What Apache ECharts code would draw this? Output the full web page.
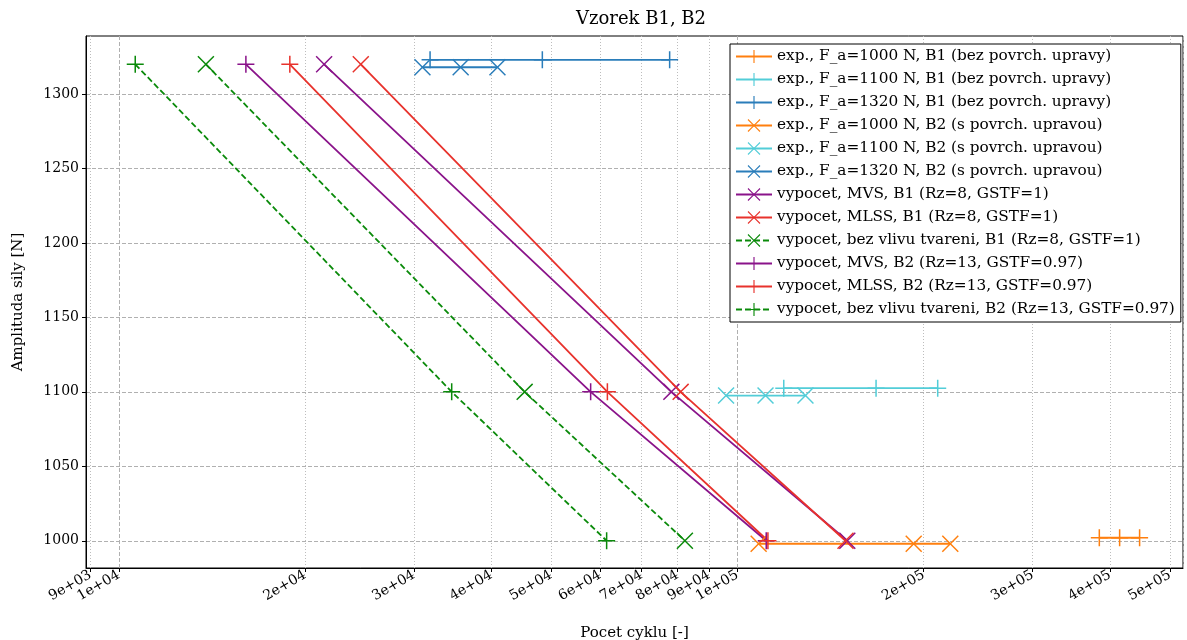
<!DOCTYPE html>
<html>
<head>
<meta charset="utf-8">
<script src="https://cdn.jsdelivr.net/npm/echarts@6/dist/echarts.min.js"></script>
<style>
  html, body { margin: 0; padding: 0; background: #fff; }
  #chart { width: 1187px; height: 640px; }
</style>
</head>
<body>
<div id="chart"></div>
<script>
// x tick values and labels (log axis)
var xTicks = [9000, 10000, 20000, 30000, 40000, 50000, 60000, 70000, 80000, 90000, 100000, 200000, 300000, 400000, 500000]
var xTickLabels = ['9e+03', '1e+04', '2e+04', '3e+04', '4e+04', '5e+04', '6e+04', '7e+04', '8e+04', '9e+04', '1e+05', '2e+05', '3e+05', '4e+05', '5e+05']
var yTicks = [1000, 1050, 1100, 1150, 1200, 1250, 1300]

// experiments, B1 (plus markers)
var exp1000B1 = [[384500, 1002], [414700, 1002], [446700, 1002]]
var exp1100B1 = [[118800, 1102.5], [167500, 1102.5], [210700, 1102.5]]
var exp1320B1 = [[31850, 1323], [48370, 1323], [77690, 1323]]
// experiments, B2 (x markers)
var exp1000B2 = [[108200, 998], [192700, 998], [220800, 998]]
var exp1100B2 = [[95850, 1097.5], [111000, 1097.5], [128800, 1097.5]]
var exp1320B2 = [[30960, 1318], [35690, 1318], [40930, 1318]]
// calculations
var mvsB1 = [[21470, 1320], [78190, 1100], [150500, 1000]]
var mlssB1 = [[24610, 1320], [80940, 1100], [149500, 1000]]
var bezB1 = [[13827, 1320], [45290, 1100], [82230, 1000]]
var mvsB2 = [[16047, 1320], [57900, 1100], [111300, 1000]]
var mlssB2 = [[18898, 1320], [61620, 1100], [112000, 1000]]
var bezB2 = [[10630, 1320], [34520, 1100], [61450, 1000]]

var PLUS = 'path://M-0.8,-9H0.8V-0.8H9V0.8H0.8V9H-0.8V0.8H-9V-0.8H-0.8Z'
var CROSS = 'path://M-7.9,-9L0,-1.1L7.9,-9L9,-7.9L1.1,0L9,7.9L7.9,9L0,1.1L-7.9,9L-9,7.9L-1.1,0L-9,-7.9Z'

var orange = '#ff7f0e'
var cyan = '#52cdd8'
var blue = '#2a7dba'
var purple = '#8a138a'
var red = '#e8322c'
var green = '#0a8a0a'
var font = 'DejaVu Serif'

function mkSeries (name, data, color, symbol, dashed) {
  return {
    name: name,
    type: 'line',
    data: data,
    symbol: symbol,
    symbolSize: 17,
    showAllSymbol: true,
    itemStyle: { color: color, borderWidth: 0 },
    lineStyle: { color: color, width: 1.8, type: dashed ? [6, 3] : 'solid' },
    emphasis: { disabled: true },
    z: 3
  }
}

var chart = echarts.init(document.getElementById('chart'), null, { renderer: 'canvas' })

var option = {
  backgroundColor: '#fff',
  animation: false,
  title: {
    text: 'Vzorek B1, B2',
    left: 636,
    top: 5,
    textAlign: 'center',
    textStyle: { fontFamily: font, fontSize: 18, fontWeight: 'normal', color: '#000' }
  },
  legend: {
    orient: 'vertical',
    left: 730,
    top: 44,
    itemWidth: 36,
    itemHeight: 16,
    itemGap: 8,
    padding: [5, 6, 5, 5],
    borderColor: '#000',
    borderWidth: 1,
    backgroundColor: '#fff',
    textStyle: { fontFamily: font, fontSize: 15.3, color: '#000' },
    z: 10
  },
  grid: {
    left: 86,
    right: 4,
    top: 36,
    bottom: 72,
    outerBoundsMode: 'none',
    containLabel: false,
    show: true,
    borderColor: '#000',
    borderWidth: 1
  },
  xAxis: [
    {
      type: 'log',
      min: 8850,
      max: 525000,
      name: 'Pocet cyklu [-]',
      nameLocation: 'middle',
      nameGap: 58,
      nameTextStyle: { fontFamily: font, fontSize: 15, color: '#000' },
      axisLine: { lineStyle: { color: '#000', width: 1 } },
      axisTick: { show: true, length: 4, inside: false, customValues: xTicks, lineStyle: { color: '#000' } },
      axisLabel: {
        customValues: xTicks,
        rotate: 30,
        margin: 6,
        fontFamily: font,
        fontSize: 14,
        color: '#000',
        formatter: function (v) {
          for (var i = 0; i < xTicks.length; i++) {
            if (Math.abs(xTicks[i] - v) / xTicks[i] < 1e-6) return xTickLabels[i]
          }
          return ''
        }
      },
      splitLine: { show: true, lineStyle: { color: '#bdbdbd', width: 1, type: [1, 2] } }
    },
    {
      type: 'log',
      min: 8850,
      max: 525000,
      position: 'bottom',
      axisLine: { show: false },
      axisTick: { show: false },
      axisLabel: { show: false },
      splitLine: { show: true, lineStyle: { color: '#b0b0b0', width: 1, type: [4, 2] } }
    }
  ],
  yAxis: {
    type: 'value',
    min: 981.7,
    max: 1339,
    name: 'Amplituda sily [N]',
    nameLocation: 'middle',
    nameGap: 60,
    nameTextStyle: { fontFamily: font, fontSize: 15, color: '#000' },
    axisLine: { show: true, lineStyle: { color: '#000', width: 1 } },
    axisTick: { show: true, length: 4, customValues: yTicks, lineStyle: { color: '#000' } },
    axisLabel: {
      customValues: yTicks,
      margin: 7,
      fontFamily: font,
      fontSize: 14,
      color: '#000',
      formatter: function (v) { return String(v) }
    },
    splitLine: { show: true, lineStyle: { color: '#b0b0b0', width: 1, type: [4, 2] } }
  },
  series: [
    mkSeries('exp., F_a=1000 N, B1 (bez povrch. upravy)', exp1000B1, orange, PLUS, false),
    mkSeries('exp., F_a=1100 N, B1 (bez povrch. upravy)', exp1100B1, cyan, PLUS, false),
    mkSeries('exp., F_a=1320 N, B1 (bez povrch. upravy)', exp1320B1, blue, PLUS, false),
    mkSeries('exp., F_a=1000 N, B2 (s povrch. upravou)', exp1000B2, orange, CROSS, false),
    mkSeries('exp., F_a=1100 N, B2 (s povrch. upravou)', exp1100B2, cyan, CROSS, false),
    mkSeries('exp., F_a=1320 N, B2 (s povrch. upravou)', exp1320B2, blue, CROSS, false),
    mkSeries('vypocet, MVS, B1 (Rz=8, GSTF=1)', mvsB1, purple, CROSS, false),
    mkSeries('vypocet, MLSS, B1 (Rz=8, GSTF=1)', mlssB1, red, CROSS, false),
    mkSeries('vypocet, bez vlivu tvareni, B1 (Rz=8, GSTF=1)', bezB1, green, CROSS, true),
    mkSeries('vypocet, MVS, B2 (Rz=13, GSTF=0.97)', mvsB2, purple, PLUS, false),
    mkSeries('vypocet, MLSS, B2 (Rz=13, GSTF=0.97)', mlssB2, red, PLUS, false),
    mkSeries('vypocet, bez vlivu tvareni, B2 (Rz=13, GSTF=0.97)', bezB2, green, PLUS, true)
  ]
}

chart.setOption(option)
</script>
</body>
</html>
